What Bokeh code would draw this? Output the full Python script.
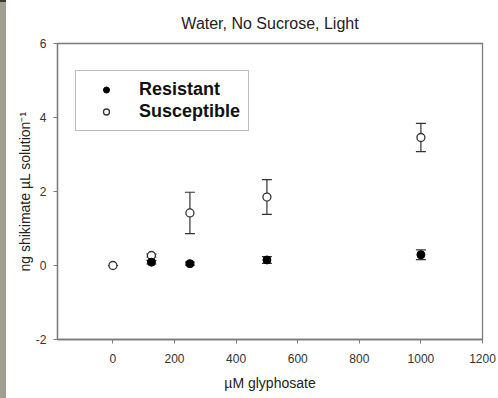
from bokeh.plotting import figure
from bokeh.models import (ColumnDataSource, Whisker, TeeHead, Legend, LegendItem,
                          FixedTicker, Range1d, Div)
from bokeh.layouts import row
from bokeh.embed import file_html
from bokeh.resources import INLINE

# ---- data ----
conc_res = [125, 250, 500, 1000]
res_mean = [0.09, 0.05, 0.15, 0.29]
res_err = [0.05, 0.04, 0.09, 0.13]

conc_sus = [0, 125, 250, 500, 1000]
sus_mean = [0.0, 0.27, 1.42, 1.85, 3.46]
sus_err = [0.0, 0.04, 0.56, 0.47, 0.38]

x_ticks = [0, 200, 400, 600, 800, 1000, 1200]
y_ticks = [-2, 0, 2, 4, 6]

FONT = "Liberation Sans"
AXIS_GRAY = "#7a7a7a"

src_res = ColumnDataSource(dict(
    x=conc_res, y=res_mean,
    lo=[m - e for m, e in zip(res_mean, res_err)],
    hi=[m + e for m, e in zip(res_mean, res_err)]))
src_sus = ColumnDataSource(dict(
    x=conc_sus, y=sus_mean,
    lo=[m - e for m, e in zip(sus_mean, sus_err)],
    hi=[m + e for m, e in zip(sus_mean, sus_err)]))

p = figure(width=492, height=398, output_backend="svg", toolbar_location=None,
           x_range=Range1d(-180, 1200), y_range=Range1d(-2, 6),
           min_border_left=51, min_border_right=16, min_border_top=43,
           min_border_bottom=59, title="Water, No Sucrose, Light")

p.title.text_font = FONT
p.title.text_font_size = "16px"
p.title.text_font_style = "normal"
p.title.text_color = "#222222"
p.title.align = "center"
p.title.text_line_height = 0.6
p.title.standoff = 24

p.xgrid.visible = False
p.ygrid.visible = False
p.outline_line_color = AXIS_GRAY
p.outline_line_width = 1.3

for ax in (p.xaxis[0], p.yaxis[0]):
    ax.axis_line_color = AXIS_GRAY
    ax.axis_line_width = 1.3
    ax.major_tick_line_color = AXIS_GRAY
    ax.major_tick_in = 0
    ax.major_tick_out = 4
    ax.minor_tick_line_color = None
    ax.major_label_text_font = FONT
    ax.major_label_text_font_size = "12px"
    ax.major_label_text_color = "#333333"
    ax.axis_label_text_font = FONT
    ax.axis_label_text_font_size = "14px"
    ax.axis_label_text_font_style = "normal"
    ax.axis_label_text_color = "#222222"

p.xaxis[0].ticker = FixedTicker(ticks=x_ticks)
p.yaxis[0].ticker = FixedTicker(ticks=y_ticks)
p.yaxis[0].major_label_overrides = {t: str(t) for t in y_ticks}
p.xaxis[0].major_label_standoff = 10
p.yaxis[0].major_label_standoff = 7
p.xaxis[0].axis_label = "µM glyphosate"
p.yaxis[0].axis_label = "ng shikimate µL solution⁻¹"
p.xaxis[0].axis_label_standoff = 9
p.yaxis[0].axis_label_standoff = 0

# error bars
for src in (src_sus, src_res):
    w = Whisker(base="x", lower="lo", upper="hi", source=src, dimension="height",
                line_color="#333333", line_width=1.2,
                upper_head=TeeHead(size=10, line_color="#333333", line_width=1.2),
                lower_head=TeeHead(size=10, line_color="#333333", line_width=1.2))
    p.add_layout(w)

r_sus = p.scatter("x", "y", source=src_sus, size=8, marker="circle",
                  fill_color="white", line_color="#333333", line_width=1.3)
r_res = p.scatter("x", "y", source=src_res, size=8, marker="circle",
                  fill_color="black", line_color="black", line_width=1)

legend = Legend(items=[LegendItem(label="Resistant", renderers=[r_res]),
                       LegendItem(label="Susceptible", renderers=[r_sus])],
                location=(18, 208))
legend.label_text_font = FONT
legend.label_text_font_size = "18px"
legend.label_text_font_style = "bold"
legend.label_text_color = "#111111"
legend.padding = 8
legend.glyph_width = 44
legend.glyph_height = 15
legend.label_standoff = 11
legend.spacing = 1
legend.margin = 0
legend.border_line_color = AXIS_GRAY
legend.border_line_width = 1.3
legend.background_fill_color = "white"
legend.background_fill_alpha = 1
p.add_layout(legend)

strip = Div(text="", width=6, height=398,
            styles={"background": "linear-gradient(#3b3b34 0px, #3b3b34 2px, #a29f90 2px)",
                    "margin": "0", "padding": "0"})

layout = row(strip, p, spacing=0)

open("out.html", "w").write(file_html(layout, INLINE))
